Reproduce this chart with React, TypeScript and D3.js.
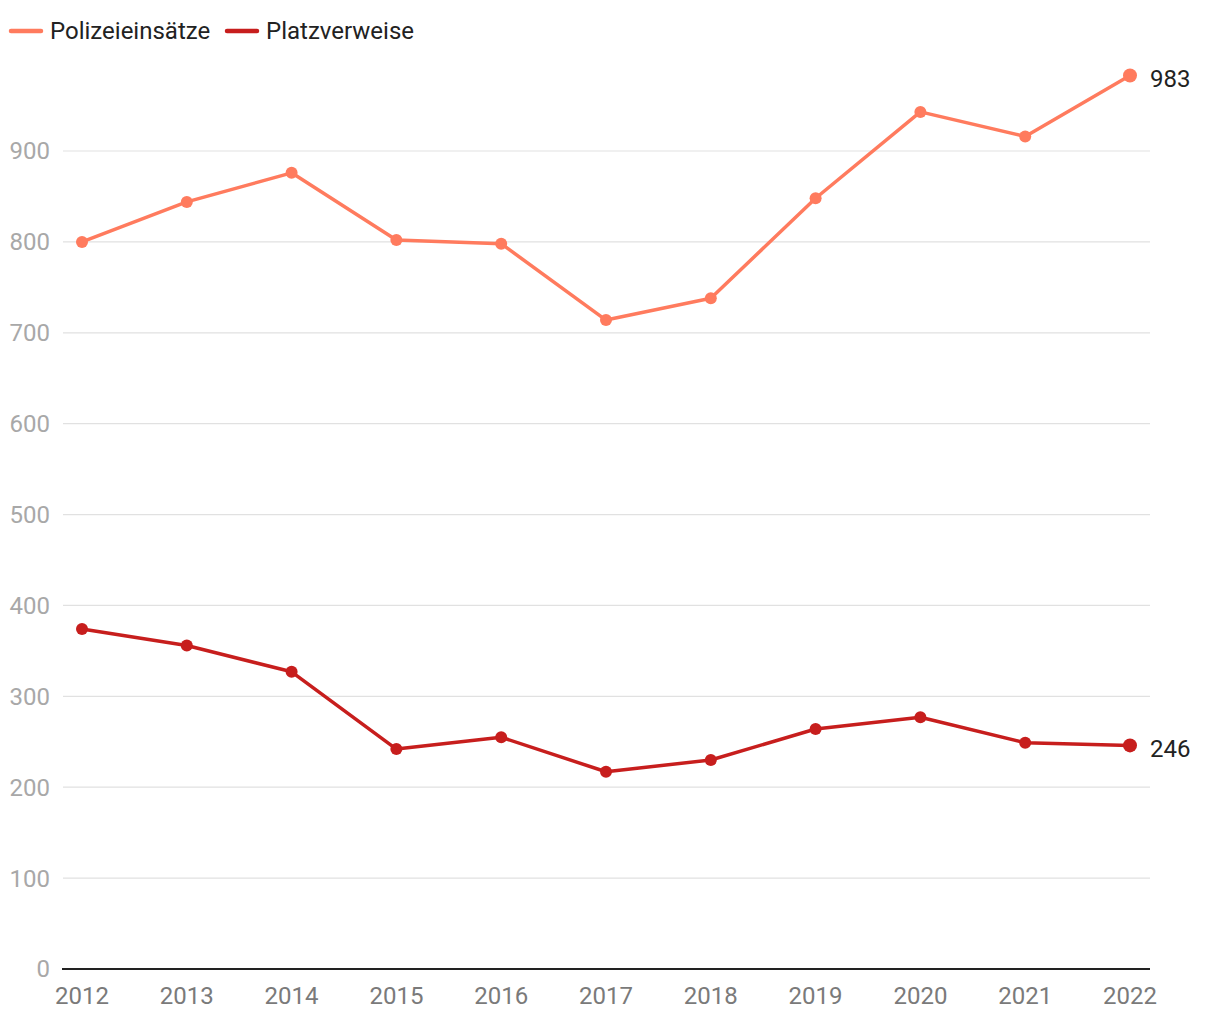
import React from "react";
import * as d3 from "d3";

const years = [2012, 2013, 2014, 2015, 2016, 2017, 2018, 2019, 2020, 2021, 2022];
const polizei = [800, 844, 876, 802, 798, 714, 738, 848, 943, 916, 983];
const platz = [374, 356, 327, 242, 255, 217, 230, 264, 277, 249, 246];
const yTicks = [0, 100, 200, 300, 400, 500, 600, 700, 800, 900];
const seriesNames = ["Polizeieinsätze", "Platzverweise"];
const colors = ["#ff7b5e", "#c71e1d"];

export default function App() {
  const W = 1220, H = 1020;
  const x = d3.scaleLinear().domain([2012, 2022]).range([82, 1130]);
  const y = d3.scaleLinear().domain([0, 900]).range([969, 151]);
  const line = d3.line<number>().x((_, i) => x(years[i])).y((d) => y(d));
  const series = [polizei, platz];
  const font = "Roboto, sans-serif";
  const fs = 24;
  return (
    <svg width={W} height={H} style={{ position: "absolute", left: 0, top: 0 }} fontFamily={font}>
      {yTicks.map((t) => (
        <g key={t}>
          {t > 0 && <line x1={63} x2={1150} y1={y(t)} y2={y(t)} stroke="#e1e1e1" strokeWidth={1.2} />}
          <text x={50} y={y(t)} dy="0.35em" textAnchor="end" fontSize={fs} fill="#a8a8a8">{t}</text>
        </g>
      ))}
      <line x1={62} x2={1150} y1={y(0)} y2={y(0)} stroke="#222" strokeWidth={2} />
      {years.map((yr) => (
        <text key={yr} x={x(yr)} y={1004} textAnchor="middle" fontSize={fs} fill="#7a7a7a">{yr}</text>
      ))}
      {series.map((s, si) => (
        <g key={si}>
          <path d={line(s) || ""} fill="none" stroke={colors[si]} strokeWidth={3.5} strokeLinejoin="round" />
          {s.map((v, i) => (
            <circle key={i} cx={x(years[i])} cy={y(v)} r={i === s.length - 1 ? 7 : 6} fill={colors[si]} />
          ))}
          <text x={x(2022) + 20} y={y(s[s.length - 1]) + 3} dy="0.35em" fontSize={fs} fill="#222">{s[s.length - 1]}</text>
        </g>
      ))}
      {seriesNames.map((n, i) => {
        const lx = i === 0 ? 11 : 227;
        return (
          <g key={n}>
            <line x1={lx} x2={lx + 30} y1={31} y2={31} stroke={colors[i]} strokeWidth={4.5} strokeLinecap="round" />
            <text x={lx + 39} y={31} dy="0.35em" fontSize={fs} fill="#222">{n}</text>
          </g>
        );
      })}
    </svg>
  );
}
